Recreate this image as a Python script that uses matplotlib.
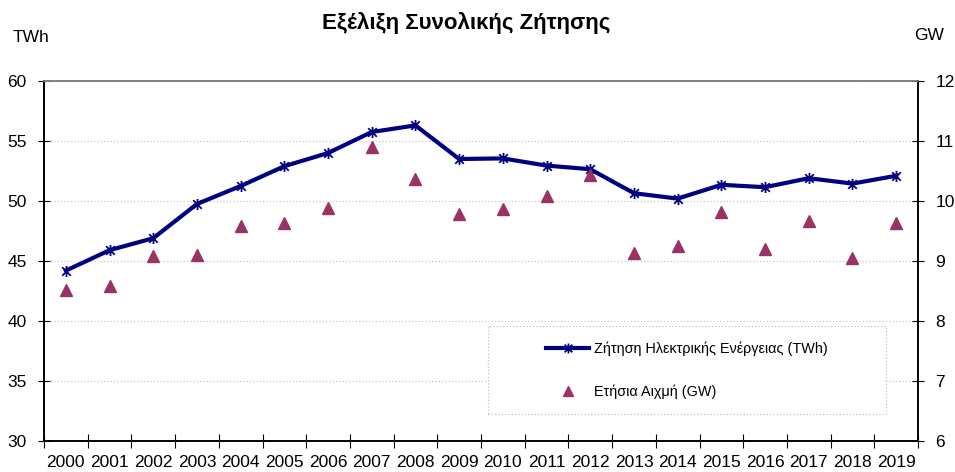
import matplotlib
matplotlib.use("Agg")
from matplotlib import pyplot as plt
from matplotlib.path import Path
from matplotlib.patches import Rectangle
import numpy as np

plt.rcParams['font.family'] = ['Liberation Sans', 'DejaVu Sans']

years = [str(y) for y in range(2000, 2020)]
demand_twh = [44.2, 45.9, 46.9, 49.75, 51.25, 52.9, 54.0, 55.75, 56.3, 53.5,
              53.55, 52.95, 52.65, 50.65, 50.2, 51.35, 51.15, 51.9, 51.45, 52.1]
peak_gw = [8.52, 8.59, 9.09, 9.1, 9.59, 9.63, 9.88, 10.9, 10.36, 9.79,
           9.86, 10.09, 10.43, 9.14, 9.25, 9.81, 9.2, 9.66, 9.05, 9.63]

title = 'Εξέλιξη Συνολικής Ζήτησης'
label_demand = 'Ζήτηση Ηλεκτρικής Ενέργειας (TWh)'
label_peak = 'Ετήσια Αιχμή (GW)'

# star marker: an "x" with a vertical stroke through it
star = Path([(-1, -1), (1, 1), (-1, 1), (1, -1), (0, -1.3), (0, 1.3)],
            [Path.MOVETO, Path.LINETO, Path.MOVETO, Path.LINETO, Path.MOVETO, Path.LINETO])

fig = plt.figure(figsize=(9.55, 4.72), dpi=100)
ax = fig.add_axes([44 / 955, 1 - 441 / 472, 874 / 955, 360 / 472])
ax2 = ax.twinx()

x = np.arange(len(years))
ax.plot(x, demand_twh, color='#000080', lw=3, marker=star, ms=8,
        mec='#000080', mew=1.3, label=label_demand, zorder=3)
ax2.plot(x, peak_gw, ls='none', marker='^', ms=8.5, color='#993366',
         label=label_peak, zorder=3)

ax.set_xlim(-0.5, len(years) - 0.5)
ax.set_ylim(30, 60)
ax2.set_ylim(6, 12)
ax.set_yticks(range(30, 61, 5))
ax2.set_yticks(range(6, 13))

ax.set_xticks(x)
ax.set_xticklabels(years)
ax.set_xticks(np.arange(-0.5, len(years)), minor=True)
ax.tick_params(axis='x', which='major', length=0, pad=10, labelsize=12.5)
ax.tick_params(axis='x', which='minor', direction='inout', length=10, width=0.8)
ax.tick_params(axis='y', direction='inout', length=9, width=0.8, pad=8, labelsize=12.5)
ax2.tick_params(axis='y', direction='inout', length=9, width=0.8, pad=8, labelsize=12.5)

ax.yaxis.grid(True, color='#c8c8c8', ls=':', lw=0.9)
ax.set_axisbelow(True)

for a in (ax, ax2):
    a.spines['top'].set_color('#808080')
    a.spines['top'].set_linewidth(1.2)
    for s in ('left', 'right', 'bottom'):
        a.spines[s].set_linewidth(1.2)

# legend frame drawn separately so the entries stay centred inside it
box = Rectangle((0.508, 0.075), 0.455, 0.244, transform=ax2.transAxes,
                facecolor='white', edgecolor='#c0c0c0', ls=':', lw=0.9, zorder=1)
ax2.add_patch(box)
h1, l1 = ax.get_legend_handles_labels()
h2, l2 = ax2.get_legend_handles_labels()
ax2.legend(h1 + h2, l1 + l2, loc='center', bbox_to_anchor=(0.7355, 0.197),
           frameon=False, fontsize=10.4, numpoints=1, handlelength=3.0,
           handletextpad=0.3, labelspacing=2.0, markerscale=0.9)

fig.text(466 / 955, 1 - 23 / 472, title, ha='center', va='center',
         fontsize=16, fontweight='bold')
fig.text(13 / 955, 1 - 37 / 472, 'TWh', ha='left', va='center', fontsize=12.5)
fig.text(929 / 955, 1 - 36 / 472, 'GW', ha='center', va='center', fontsize=12.5)

plt.savefig('out.png', dpi=100, facecolor='white')
